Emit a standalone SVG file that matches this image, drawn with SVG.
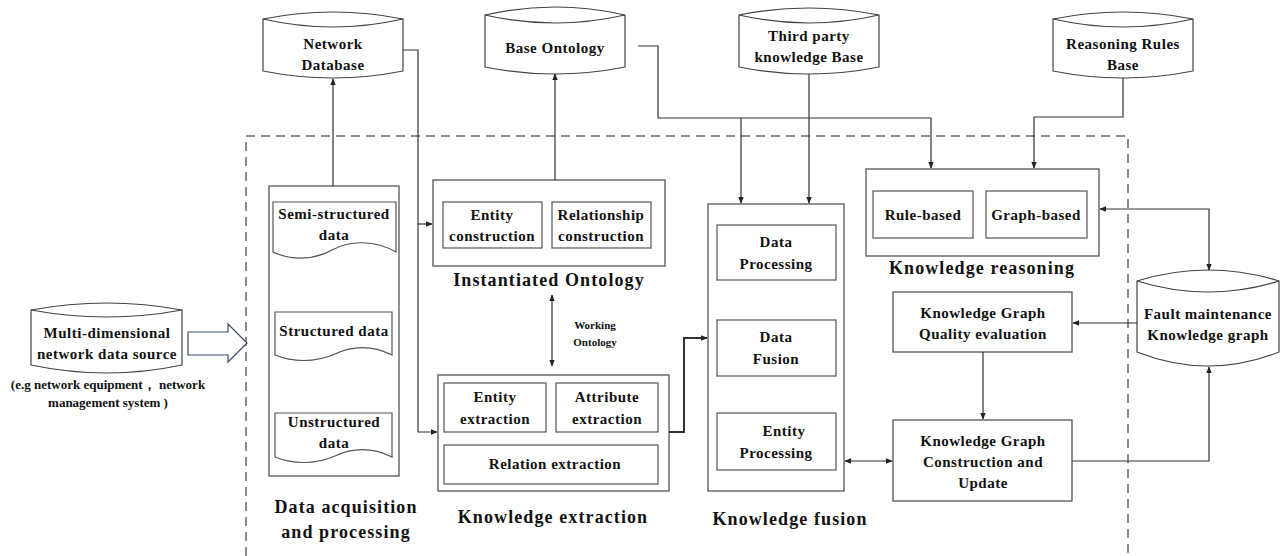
<svg xmlns="http://www.w3.org/2000/svg" width="1280" height="556" viewBox="0 0 1280 556">
<style>
text{font-family:"Liberation Serif","Times New Roman",serif;font-weight:bold;fill:#111;text-anchor:middle}
.t{font-size:15px;letter-spacing:0.5px}
.s{font-size:13px}
.xs{font-size:11px}
.h{font-size:18px;letter-spacing:1.1px}
.box{fill:#fff;stroke:#555;stroke-width:1.3}
.in{fill:#fff;stroke:#555;stroke-width:1.2}
.cyl{fill:#fff;stroke:#444;stroke-width:1.2}
.ln{fill:none;stroke:#333;stroke-width:1.2}
.ln2{fill:none;stroke:#333;stroke-width:2}
</style>
<defs>
<marker id="ah" viewBox="0 0 10 10" refX="9" refY="5" markerWidth="7" markerHeight="7" orient="auto-start-reverse" markerUnits="userSpaceOnUse"><path d="M0,1 L10,5 L0,9 Z" fill="#222"/></marker>
</defs>
<path d="M246,556 V136 H1128 V556" fill="none" stroke="#666" stroke-width="1.5" stroke-dasharray="9,6"/>

<g id="network-db">
<path class="cyl" d="M263,19 Q333,5 403,19 V71 Q333,85 263,71 Z"/>
<path class="cyl" d="M263,19 Q333,35 403,19" fill="none"/>
<text class="t" x="333" y="49">Network</text>
<text class="t" x="333" y="70">Database</text>
</g>
<g id="base-ontology">
<path class="cyl" d="M485,15 Q555,-1 625,15 V67 Q555,81 485,67 Z"/>
<path class="cyl" d="M485,15 Q555,31 625,15" fill="none"/>
<text class="t" x="555" y="53">Base Ontology</text>
</g>
<g id="third-party">
<path class="cyl" d="M739,15 Q809,1 879,15 V67 Q809,81 739,67 Z"/>
<path class="cyl" d="M739,15 Q809,31 879,15" fill="none"/>
<text class="t" x="809" y="41">Third party</text>
<text class="t" x="809" y="62">knowledge Base</text>
</g>
<g id="rules-base">
<path class="cyl" d="M1053,19 Q1123,5 1193,19 V71 Q1123,85 1053,71 Z"/>
<path class="cyl" d="M1053,19 Q1123,35 1193,19" fill="none"/>
<text class="t" x="1123" y="49">Reasoning Rules</text>
<text class="t" x="1123" y="70">Base</text>
</g>
<g id="data-source">
<path class="cyl" d="M31,310 Q107,296 182,310 V365 Q107,381 31,365 Z"/>
<path class="cyl" d="M31,310 Q107,324 182,310" fill="none"/>
<text class="t" x="107" y="338">Multi-dimensional</text>
<text class="t" x="107" y="359">network data source</text>
<text class="s" x="108" y="389">(e.g network equipment， network</text>
<text class="s" x="108" y="407">management system )</text>
</g>
<g id="block-arrow">
<path d="M188,332 H228 V324 L247,343 L228,362 V355 H188 Z" fill="#fff" stroke="#3d4a6b" stroke-width="1.2"/>
</g>
<g id="data-acquisition">
<rect class="box" x="269" y="186" width="130" height="290"/>
<path class="in" d="M273,202 H396 V252 C375,240 350,240 332,250 C312,261 290,260 273,252 Z"/>
<text class="t" x="334" y="219">Semi-structured</text>
<text class="t" x="334" y="240">data</text>
<path class="in" d="M275,312 H392 V355 C372,345 352,346 335,354 C315,363 292,362 275,355 Z"/>
<text class="t" x="334" y="336">Structured data</text>
<path class="in" d="M275,413 H392 V457 C372,447 352,448 335,456 C315,465 292,464 275,457 Z"/>
<text class="t" x="334" y="427">Unstructured</text>
<text class="t" x="334" y="448">data</text>
<text class="h" x="346" y="513">Data acquisition</text>
<text class="h" x="346" y="538">and processing</text>
</g>
<g id="instantiated-ontology">
<rect class="box" x="433" y="180" width="232" height="86"/>
<rect class="in" x="443" y="202" width="99" height="46"/>
<rect class="in" x="552" y="202" width="99" height="46"/>
<text class="t" x="492" y="220">Entity</text>
<text class="t" x="492" y="241">construction</text>
<text class="t" x="601" y="220">Relationship</text>
<text class="t" x="601" y="241">construction</text>
<text class="h" x="549" y="286">Instantiated Ontology</text>
</g>
<g id="working-ontology">
<text class="xs" x="595" y="329">Working</text>
<text class="xs" x="595" y="346">Ontology</text>
</g>
<g id="knowledge-extraction">
<rect class="box" x="438" y="375" width="231" height="116"/>
<rect class="in" x="444" y="383" width="102" height="49"/>
<rect class="in" x="556" y="383" width="102" height="49"/>
<rect class="in" x="444" y="445" width="214" height="39" stroke="#3d4a6b"/>
<text class="t" x="495" y="402">Entity</text>
<text class="t" x="495" y="424">extraction</text>
<text class="t" x="607" y="402">Attribute</text>
<text class="t" x="607" y="424">extraction</text>
<text class="t" x="555" y="469">Relation extraction</text>
<text class="h" x="553" y="523">Knowledge extraction</text>
</g>
<g id="knowledge-fusion">
<rect class="box" x="708" y="204" width="136" height="287"/>
<rect class="in" x="717" y="225" width="119" height="55"/>
<rect class="in" x="717" y="320" width="119" height="56"/>
<rect class="in" x="717" y="413" width="119" height="57"/>
<text class="t" x="776" y="247">Data</text>
<text class="t" x="776" y="269">Processing</text>
<text class="t" x="776" y="342">Data</text>
<text class="t" x="776" y="364">Fusion</text>
<text class="t" x="784" y="436">Entity</text>
<text class="t" x="776" y="458">Processing</text>
<text class="h" x="790" y="525">Knowledge fusion</text>
</g>
<g id="knowledge-reasoning">
<rect class="box" x="866" y="169" width="233" height="87"/>
<rect class="in" x="873" y="191" width="100" height="47"/>
<rect class="in" x="986" y="191" width="101" height="47"/>
<text class="t" x="923" y="220">Rule-based</text>
<text class="t" x="1036" y="220">Graph-based</text>
<text class="h" x="982" y="274">Knowledge reasoning</text>
</g>
<g id="fault-kg">
<path class="cyl" d="M1137,281 Q1208,259 1279,281 V352 Q1208,380 1137,352 Z"/>
<path class="cyl" d="M1137,281 Q1208,303 1279,281" fill="none"/>
<text class="t" x="1208" y="319">Fault maintenance</text>
<text class="t" x="1208" y="340">Knowledge graph</text>
</g>
<g id="kg-quality">
<rect class="box" x="893" y="292" width="179" height="60"/>
<text class="t" x="983" y="318">Knowledge Graph</text>
<text class="t" x="983" y="339">Quality evaluation</text>
</g>
<g id="kg-construction">
<rect class="box" x="893" y="420" width="179" height="81"/>
<text class="t" x="983" y="446">Knowledge Graph</text>
<text class="t" x="983" y="467">Construction and</text>
<text class="t" x="983" y="488">Update</text>
</g>

<g id="connectors">
<path class="ln" d="M333,186 V79" marker-end="url(#ah)"/>
<path class="ln" d="M403,50 H418 V432 H437" marker-end="url(#ah)"/>
<path class="ln" d="M418,224 H432" marker-end="url(#ah)"/>
<path class="ln" d="M555,180 V74" marker-end="url(#ah)"/>
<path class="ln" d="M638,46 H658 V118 H931 V168" marker-end="url(#ah)"/>
<path class="ln" d="M741,118 V203" marker-end="url(#ah)"/>
<path class="ln" d="M809,74 V203" marker-end="url(#ah)"/>
<path class="ln" d="M1123,78 V117 H1034 V168" marker-end="url(#ah)"/>
<path class="ln" d="M552,295 V366" marker-start="url(#ah)" marker-end="url(#ah)"/>
<path class="ln2" d="M669,432 H684 V338 H707" marker-end="url(#ah)"/>
<path class="ln" d="M1100,209 H1209 V270" marker-start="url(#ah)" marker-end="url(#ah)"/>
<path class="ln" d="M1137,323 H1073" marker-end="url(#ah)"/>
<path class="ln" d="M983,352 V419" marker-end="url(#ah)"/>
<path class="ln" d="M1072,461 H1209 V367" marker-end="url(#ah)"/>
<path class="ln" d="M845,461 H892" marker-start="url(#ah)" marker-end="url(#ah)"/>
</g>
</svg>
